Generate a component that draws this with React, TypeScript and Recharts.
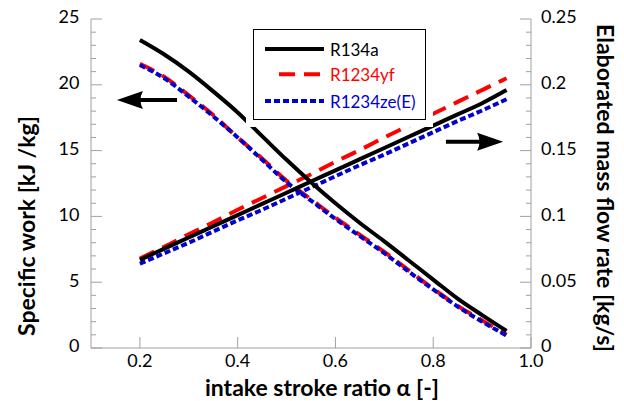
import { Legend, Line, LineChart, ReferenceLine, XAxis, YAxis } from 'recharts';

// intake stroke ratio α
const alpha = [0.2, 0.25, 0.3, 0.35, 0.4, 0.45, 0.5, 0.55, 0.6, 0.65, 0.7, 0.75, 0.8, 0.85, 0.9, 0.95];

// specific work [kJ/kg] (left axis)
const workR134a = [23.4, 22.3, 21.0, 19.5, 17.9, 16.1, 14.3, 12.6, 11.0, 9.5, 8.1, 6.65, 5.2, 3.75, 2.5, 1.3];
const workR1234yf = [21.6, 20.6, 19.2, 17.7, 16.0, 14.4, 12.7, 11.3, 9.9, 8.6, 7.3, 5.9, 4.5, 3.2, 2.1, 1.0];
const workR1234ze = [21.5, 20.5, 19.1, 17.6, 16.0, 14.3, 12.6, 11.2, 9.8, 8.5, 7.2, 5.8, 4.45, 3.15, 2.0, 0.95];

// elaborated mass flow rate [kg/s] (right axis)
const flowR134a = [0.067, 0.0755, 0.084, 0.0925, 0.101, 0.1095, 0.118, 0.1265, 0.135, 0.1435, 0.152, 0.1605, 0.169, 0.1775, 0.186, 0.196];
const flowR1234yf = [0.068, 0.077, 0.0865, 0.0955, 0.105, 0.114, 0.123, 0.132, 0.1415, 0.1505, 0.16, 0.169, 0.178, 0.187, 0.196, 0.205];
const flowR1234ze = [0.064, 0.072, 0.08, 0.0885, 0.097, 0.105, 0.1135, 0.122, 0.1305, 0.139, 0.147, 0.1555, 0.164, 0.1725, 0.1805, 0.189];

const seriesNames = ['R134a', 'R1234yf', 'R1234ze(E)'];
const seriesColors = ['#000000', '#ff0000', '#0000cc'];
const seriesDashes = [undefined, '16 9', '6 3'];

const xTicks = [0.2, 0.4, 0.6, 0.8, 1.0];
const xTickLabels = ['0.2', '0.4', '0.6', '0.8', '1.0'];
const leftMajorTicks = [0, 5, 10, 15, 20, 25];
const leftTickLabels = ['0', '5', '10', '15', '20', '25'];
const rightMajorTicks = [0, 0.05, 0.1, 0.15, 0.2, 0.25];
const rightTickLabels = ['0', '0.05', '0.1', '0.15', '0.2', '0.25'];
const leftTicks = Array.from({ length: 26 }, (_, i) => i);
const rightTicks = Array.from({ length: 26 }, (_, i) => i / 100);

// arrows pointing to the axis each group belongs to
const leftArrow = { from: 0.276, to: 0.153, y: 18.84 };
const rightArrow = { from: 0.826, to: 0.943, y: 0.1568 };

const FRAME = '#a0a0a0';
const FONT = 'Lato, "Noto Sans", sans-serif';
const TITLE_SIZE = 23;

const chartData = alpha.map((a, i) => ({
  alpha: a,
  wR134a: workR134a[i],
  wR1234yf: workR1234yf[i],
  wR1234ze: workR1234ze[i],
  fR134a: flowR134a[i],
  fR1234yf: flowR1234yf[i],
  fR1234ze: flowR1234ze[i],
}));

const findIndex = (list: number[], v: number) => list.findIndex((t) => Math.abs(t - v) < 1e-6);

function LeftTick({ x, y, payload }: any) {
  const idx = findIndex(leftMajorTicks, payload.value);
  const major = idx >= 0;
  return (
    <g>
      <line x1={x} x2={x + (major ? 11 : 5)} y1={y} y2={y} stroke={FRAME} />
      {major && (
        <text x={x - 11.5} y={y + 4.3} textAnchor="end" fontSize={18} fontFamily={FONT} fill="#000">
          {leftTickLabels[idx]}
        </text>
      )}
    </g>
  );
}

function RightTick({ x, y, payload }: any) {
  const idx = findIndex(rightMajorTicks, payload.value);
  const major = idx >= 0;
  return (
    <g>
      <line x1={x} x2={x - (major ? 11 : 5)} y1={y} y2={y} stroke={FRAME} />
      {major && (
        <text x={x + 10} y={y + 4.3} textAnchor="start" fontSize={18} fontFamily={FONT} fill="#000">
          {rightTickLabels[idx]}
        </text>
      )}
    </g>
  );
}

function BottomTick({ x, y, payload }: any) {
  const idx = findIndex(xTicks, payload.value);
  return (
    <g>
      <line x1={x} x2={x} y1={y} y2={y - 11} stroke={FRAME} />
      <text x={x} y={y + 18.7} textAnchor="middle" fontSize={18} fontFamily={FONT} fill="#000">
        {xTickLabels[idx]}
      </text>
    </g>
  );
}

function TopTick({ x, y }: any) {
  return <line x1={x} x2={x} y1={y} y2={y + 11} stroke={FRAME} />;
}

function Arrow(props: any) {
  const { x1, y1, x2, y2 } = props;
  const dir = Math.sign(x2 - x1);
  const headLen = 26;
  const half = 9;
  const notch = 8;
  const bx = x2 - dir * headLen;
  return (
    <g>
      <line x1={x1} y1={y1} x2={bx + dir * notch} y2={y2} stroke="#000" strokeWidth={4} />
      <path
        d={`M${x2},${y2} L${bx},${y2 - half} Q${bx + dir * notch * 0.6},${y2} ${bx},${y2 + half} Z`}
        fill="#000"
      />
    </g>
  );
}

function LegendBox() {
  const rowY = [20, 45.3, 72];
  return (
    <div
      style={{
        position: 'relative',
        width: 173,
        height: 91,
        boxSizing: 'border-box',
        border: '1.5px solid #000',
        background: '#fff',
        boxShadow: '0 0 0 7px #fff',
        fontFamily: FONT,
      }}
    >
      <svg width={173} height={91} style={{ position: 'absolute', left: -1.5, top: -1.5 }}>
        {seriesNames.map((name, i) => (
          <g key={name}>
            <line
              x1={i === 1 ? 26 : 12}
              x2={i === 1 ? 68 : 71}
              y1={rowY[i]}
              y2={rowY[i]}
              stroke={seriesColors[i]}
              strokeWidth={4}
              strokeDasharray={seriesDashes[i]}
            />
            <text x={77} y={rowY[i] + 6.5} fontSize={17} fontFamily={FONT} fill={seriesColors[i]}>
              {name}
            </text>
          </g>
        ))}
      </svg>
    </div>
  );
}

function LeftTitle({ viewBox }: any) {
  const cx = viewBox.x + 26;
  const cy = 226;
  return (
    <text
      x={cx}
      y={cy}
      transform={`rotate(-90 ${cx} ${cy})`}
      textAnchor="middle"
      dominantBaseline="central"
      fontSize={TITLE_SIZE}
      fontWeight="bold"
      fontFamily={FONT}
      fill="#000"
    >
      Specific work [kJ /kg]
    </text>
  );
}

function RightTitle({ viewBox }: any) {
  const cx = viewBox.x + 75;
  const cy = 188;
  return (
    <text
      x={cx}
      y={cy}
      transform={`rotate(90 ${cx} ${cy})`}
      textAnchor="middle"
      dominantBaseline="central"
      fontSize={TITLE_SIZE}
      fontWeight="bold"
      fontFamily={FONT}
      fill="#000"
    >
      Elaborated mass flow rate [kg/s]
    </text>
  );
}

function BottomTitle({ viewBox }: any) {
  return (
    <text
      x={322}
      y={viewBox.y + 48}
      textAnchor="middle"
      fontSize={TITLE_SIZE}
      fontWeight="bold"
      fontFamily={FONT}
      fill="#000"
    >
      intake stroke ratio α [-]
    </text>
  );
}

export default function App() {
  return (
    <div style={{ position: 'absolute', left: 0, top: 0, background: '#fff' }}>
      <LineChart width={624} height={401} data={chartData} margin={{ top: 19, right: 0, bottom: 0, left: 0 }}>
        <XAxis
          dataKey="alpha"
          type="number"
          domain={[0.1, 1.0]}
          ticks={xTicks}
          interval={0}
          height={53}
          tickSize={0}
          tickMargin={0}
          tickLine={false}
          axisLine={{ stroke: FRAME }}
          tick={BottomTick}
          label={{ content: BottomTitle }}
        />
        <XAxis
          xAxisId="top"
          orientation="top"
          dataKey="alpha"
          type="number"
          domain={[0.1, 1.0]}
          ticks={xTicks.slice(0, 4)}
          interval={0}
          height={0}
          tickSize={0}
          tickMargin={0}
          tickLine={false}
          axisLine={{ stroke: FRAME }}
          tick={TopTick}
        />
        <YAxis
          yAxisId="w"
          orientation="left"
          domain={[0, 25]}
          ticks={leftTicks}
          interval={0}
          width={91}
          tickSize={0}
          tickMargin={0}
          tickLine={false}
          axisLine={{ stroke: FRAME }}
          tick={LeftTick}
          label={{ content: LeftTitle }}
        />
        <YAxis
          yAxisId="m"
          orientation="right"
          domain={[0, 0.25]}
          ticks={rightTicks}
          interval={0}
          width={93}
          tickSize={0}
          tickMargin={0}
          tickLine={false}
          axisLine={{ stroke: FRAME }}
          tick={RightTick}
          label={{ content: RightTitle }}
        />
        <Legend
          layout="horizontal"
          align="center"
          verticalAlign="middle"
          content={LegendBox}
          wrapperStyle={{ left: 253, top: 29, width: 173, height: 91 }}
        />
        <Line yAxisId="w" type="monotone" dataKey="wR1234yf" stroke={seriesColors[1]} strokeWidth={4} strokeDasharray={seriesDashes[1]} dot={false} isAnimationActive={false} />
        <Line yAxisId="m" type="monotone" dataKey="fR1234yf" stroke={seriesColors[1]} strokeWidth={4} strokeDasharray={seriesDashes[1]} dot={false} isAnimationActive={false} />
        <Line yAxisId="w" type="monotone" dataKey="wR1234ze" stroke={seriesColors[2]} strokeWidth={4} strokeDasharray={seriesDashes[2]} dot={false} isAnimationActive={false} />
        <Line yAxisId="m" type="monotone" dataKey="fR1234ze" stroke={seriesColors[2]} strokeWidth={4} strokeDasharray={seriesDashes[2]} dot={false} isAnimationActive={false} />
        <Line yAxisId="w" type="monotone" dataKey="wR134a" stroke={seriesColors[0]} strokeWidth={4} dot={false} isAnimationActive={false} />
        <Line yAxisId="m" type="monotone" dataKey="fR134a" stroke={seriesColors[0]} strokeWidth={4} dot={false} isAnimationActive={false} />
        <ReferenceLine
          yAxisId="w"
          segment={[{ x: leftArrow.from, y: leftArrow.y }, { x: leftArrow.to, y: leftArrow.y }]}
          shape={Arrow}
        />
        <ReferenceLine
          yAxisId="m"
          segment={[{ x: rightArrow.from, y: rightArrow.y }, { x: rightArrow.to, y: rightArrow.y }]}
          shape={Arrow}
        />
      </LineChart>
    </div>
  );
}
